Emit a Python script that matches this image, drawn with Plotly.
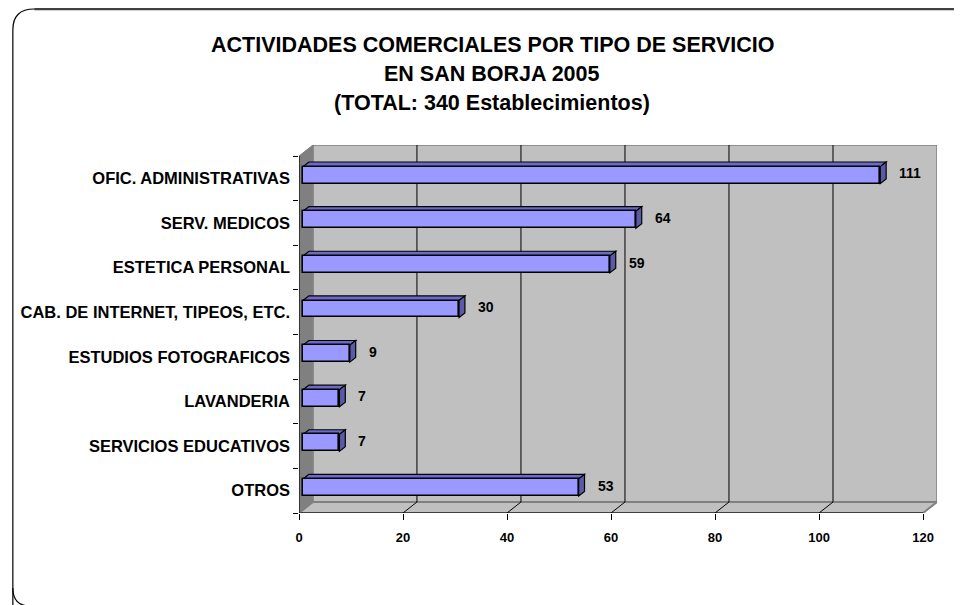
import plotly.graph_objects as go

# ---------------- data ----------------
categories = ["OFIC. ADMINISTRATIVAS", "SERV. MEDICOS", "ESTETICA PERSONAL",
              "CAB. DE INTERNET, TIPEOS, ETC.", "ESTUDIOS FOTOGRAFICOS",
              "LAVANDERIA", "SERVICIOS EDUCATIVOS", "OTROS"]
values = [111, 64, 59, 30, 9, 7, 7, 53]
x_ticks = [0, 20, 40, 60, 80, 100, 120]
title_lines = ["ACTIVIDADES COMERCIALES POR TIPO DE SERVICIO",
               "EN SAN BORJA 2005",
               "(TOTAL: 340 Establecimientos)"]

# ---------------- geometry / style ----------------
W, H = 962, 605
OFF = 8                                  # page body margin
# plot area in page pixels
Lp, Rp, Tp, Bp = 296, 937, 145, 513
L, R, T, B = Lp - OFF, Rp - OFF, Tp - OFF, Bp - OFF   # figure pixels
XMAX = 120
DX = 2.68                               # 3D depth offset (x units)
DY = 0.2466                             # 3D depth offset (category units)
F0, F1 = 0.29, 0.71                     # bar front / back depth fractions
BW = 0.38                               # bar thickness (category units)
FONT = "Liberation Sans, Arial, sans-serif"
n = len(categories)
idx = list(range(n))
y_top = -0.5 - DY
y_bot = n - 0.5


def px(X):  # page x -> paper
    return (X - Lp) / (Rp - Lp)


def py(Y):  # page y -> paper
    return (Bp - Y) / (Bp - Tp)


fig = go.Figure()
fig.add_trace(go.Bar(
    x=values, y=idx, orientation="h", base=F0 * DX, width=BW,
    offset=-BW / 2 - F0 * DY,
    marker=dict(color="#9999FF", line=dict(color="black", width=1.6)),
    hoverinfo="skip", showlegend=False))

shapes = []
# back wall
shapes.append(dict(type="rect", xref="x", yref="y", x0=DX, x1=XMAX + DX,
                   y0=y_top, y1=y_bot - DY, fillcolor="#C0C0C0",
                   line=dict(color="#808080", width=1.5), layer="below"))
# left wall
shapes.append(dict(type="path", xref="x", yref="y",
                   path=f"M 0,-0.5 L {DX},{y_top} L {DX},{y_bot - DY} L 0,{y_bot} Z",
                   fillcolor="#808080", line=dict(color="#808080", width=1), layer="below"))
# floor
shapes.append(dict(type="path", xref="x", yref="y",
                   path=f"M 0,{y_bot} L {XMAX},{y_bot} L {XMAX + DX},{y_bot - DY} L {DX},{y_bot - DY} Z",
                   fillcolor="#C0C0C0", line=dict(color="#808080", width=2), layer="below"))
# gridlines on back wall and floor
for t in x_ticks[1:-1]:
    shapes.append(dict(type="line", xref="x", yref="y", x0=t + DX, x1=t + DX,
                       y0=y_top, y1=y_bot - DY, line=dict(color="black", width=1), layer="below"))
    shapes.append(dict(type="line", xref="x", yref="y", x0=t, x1=t + DX,
                       y0=y_bot, y1=y_bot - DY, line=dict(color="black", width=1), layer="below"))
# front axis lines
shapes.append(dict(type="line", xref="x", yref="y", x0=0, x1=XMAX, y0=y_bot, y1=y_bot,
                   line=dict(color="black", width=1.2), layer="below"))
shapes.append(dict(type="line", xref="x", yref="y", x0=0, x1=0, y0=-0.5, y1=y_bot,
                   line=dict(color="black", width=1.2), layer="below"))

# 3D top and side faces of the bars
x0 = F0 * DX
ddx = (F1 - F0) * DX
ddy = (F1 - F0) * DY
for i, v in zip(idx, values):
    yt = i - BW / 2 - F0 * DY
    yb = yt + BW
    shapes.append(dict(type="path", xref="x", yref="y",
                       path=f"M {x0},{yt} L {x0 + v},{yt} L {x0 + v + ddx},{yt - ddy} L {x0 + ddx},{yt - ddy} Z",
                       fillcolor="#6B6BC6", line=dict(color="black", width=1.2), layer="below"))
    shapes.append(dict(type="path", xref="x", yref="y",
                       path=f"M {x0 + v},{yt} L {x0 + v + ddx},{yt - ddy} L {x0 + v + ddx},{yb - ddy} L {x0 + v},{yb} Z",
                       fillcolor="#5A5AA6", line=dict(color="black", width=1.2), layer="below"))

# chart border (rounded)
shapes.append(dict(type="path", xref="paper", yref="paper",
                   path=(f"M {px(8.5)},{py(608)} L {px(8.5)},{py(30)} "
                         f"Q {px(8.5)},{py(9)} {px(30)},{py(9)}"),
                   line=dict(color="black", width=1.2)))
shapes.append(dict(type="path", xref="paper", yref="paper",
                   path=f"M {px(30)},{py(9)} L {px(958)},{py(9)} L {px(963)},{py(11)}",
                   line=dict(color="#404040", width=2.5)))
shapes.append(dict(type="path", xref="paper", yref="paper",
                   path=(f"M {px(8.5)},{py(588)} Q {px(8.5)},{py(606)} {px(26)},{py(606)}"),
                   line=dict(color="black", width=1.2)))

annotations = []
for k, (line, ypix) in enumerate(zip(title_lines, [45, 74, 103])):
    annotations.append(dict(text=f"<b>{line}</b>", x=px(490), y=py(ypix),
                            xref="paper", yref="paper", xanchor="center", yanchor="middle",
                            showarrow=False, font=dict(family=FONT, size=21.5, color="black")))
for i, v in zip(idx, values):
    annotations.append(dict(text=f"<b>{v}</b>", x=v + F1 * DX, y=i, xref="x", yref="y",
                            xanchor="left", yanchor="middle", xshift=11, yshift=5,
                            showarrow=False, font=dict(family=FONT, size=14, color="black")))

fig.update_layout(
    width=W, height=H, autosize=False,
    margin=dict(l=L, r=W - R, t=T, b=H - B, pad=0),
    paper_bgcolor="white", plot_bgcolor="rgba(0,0,0,0)",
    shapes=shapes, annotations=annotations, showlegend=False,
    bargap=0,
    xaxis=dict(range=[0, XMAX + DX], tickvals=x_ticks, ticktext=[str(t) for t in x_ticks],
               ticks="outside", ticklen=6, tickcolor="black", tickwidth=1,
               showgrid=False, zeroline=False, showline=False, fixedrange=True,
               tickfont=dict(family=FONT, size=13, color="black", weight="bold"),
               ticklabelstandoff=6),
    yaxis=dict(range=[y_bot, y_top], tickvals=idx, ticktext=categories, ticks="",
               showgrid=False, zeroline=False, showline=False, fixedrange=True,
               minor=dict(tickvals=[k - 0.5 for k in range(n + 1)], ticks="outside",
                          ticklen=5, tickcolor="black", tickwidth=1, showgrid=False),
               tickfont=dict(family=FONT, size=16.5, color="black", weight="bold"),
               ticklabelstandoff=8),
)

fig.write_html("out.html")
